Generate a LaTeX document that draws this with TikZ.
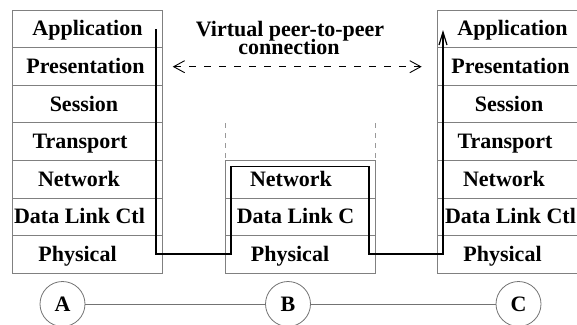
\documentclass[tikz,border=0pt]{standalone}
\usepackage{fontspec}
\setmainfont{Liberation Serif}
\usetikzlibrary{arrows.meta}
\begin{document}
\begin{tikzpicture}[x=1pt,y=-1pt,
  lay/.style={font=\fontsize{22}{22}\selectfont\bfseries, anchor=base, inner sep=0pt},
  frame/.style={draw=black!50, line width=0.8pt},
  wire/.style={draw=black, line width=1.2pt},
  guide/.style={draw=black!40, line width=0.8pt, dash pattern=on 5pt off 5pt},
  peer/.style={draw=black, line width=0.9pt, dash pattern=on 7pt off 8pt},
  site/.style={circle, draw=black!55, line width=0.8pt, minimum size=45pt, inner sep=0pt,
    font=\fontsize{22}{22}\selectfont\bfseries},
  link/.style={draw=black!55, line width=0.8pt}]
\useasboundingbox (0,0) rectangle (577,324);
\clip (0,0) rectangle (577,324);
% stacks
\foreach \i in {0,...,6} {
  \draw[frame] (12,{10+37.6*\i}) rectangle (162,{10+37.6*(\i+1)});
  \draw[frame] (437,{10+37.6*\i}) rectangle (587,{10+37.6*(\i+1)});
}
\foreach \i in {4,5,6} {
  \draw[frame] (225,{10+37.6*\i}) rectangle (375,{10+37.6*(\i+1)});
}
\draw[guide] (225,123) -- (225,160.4);
\draw[guide] (375,123) -- (375,160.4);
% left and right labels
\foreach \x/\d/\i/\t/\n in {87.5/0/0/Application/la, 85.5/0/1/Presentation/lp, 84/0/2/Session/ls, 80/0/3/Transport/lt, 79/0/4/Network/ln, 79.5/6/5/Data Link Ctl/ld, 77.5/0/6/Physical/lph} {
  \node[lay] (\n) at (\x,{10+37.6*(\i+0.5)+7}) {\t};
  \node[lay] (r\n) at ({\x+425+\d},{10+37.6*(\i+0.5)+7}) {\t};
}
\node[lay] (mn) at (291,{10+37.6*4.5+7}) {Network};
\node[lay] (md) at (295.5,{10+37.6*5.5+7}) {Data Link C};
\node[lay] (mph) at (290,{10+37.6*6.5+7}) {Physical};
% title
\node[lay] (t1) at (290,36) {Virtual peer-to-peer};
\node[lay] (t2) at (289,54.5) {connection};
\coordinate (pl) at (172.7,66.7);
\coordinate (pr) at (421.7,66.7);
\draw[peer, {Straight Barb[length=11pt,width=12pt]}-{Straight Barb[length=11pt,width=12pt]}] (pl) -- (pr);
% actual path
\coordinate (s) at (156,29.3);
\coordinate (e) at (443,30);
\draw[wire, -{Straight Barb[length=13pt,width=8pt]}] (s) -- (156,254) -- (231,254) -- (231,166.7) -- (369,166.7) -- (369,254) -- (443,254) -- (e);
% sites
\node[site] (A) at (62.5,304) {A};
\node[site] (B) at (288,304) {B};
\node[site] (C) at (518.5,304) {C};
\draw[link] (A) -- (B);
\draw[link] (B) -- (C);
\end{tikzpicture}
\end{document}
